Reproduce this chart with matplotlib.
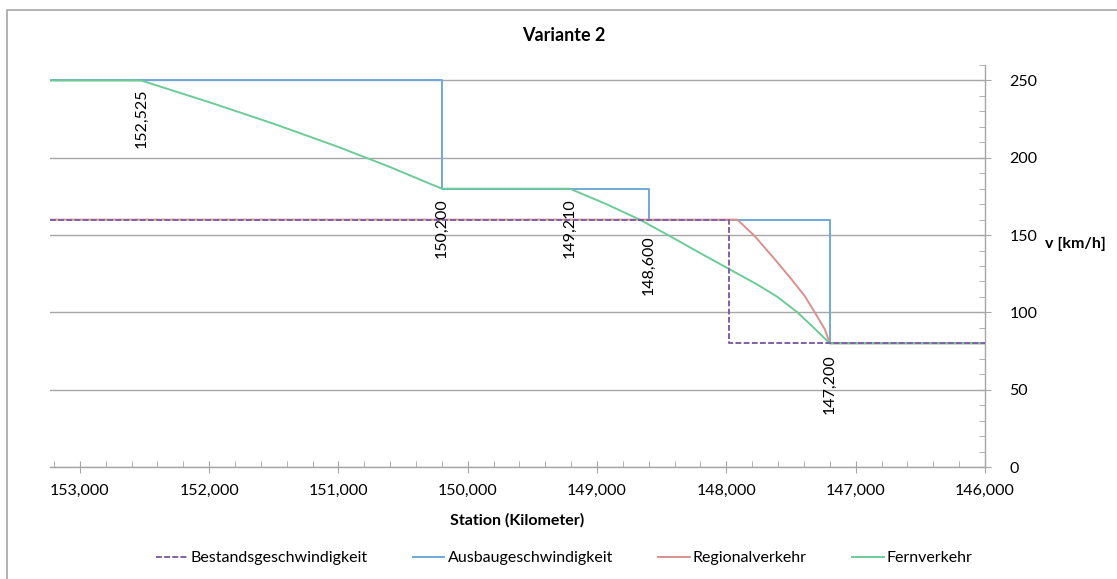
import matplotlib
matplotlib.use("Agg")
import matplotlib.pyplot as plt
import matplotlib.ticker as ticker
from matplotlib.patches import Rectangle

plt.rcParams['font.family'] = ['Lato', 'DejaVu Sans']

# Bestandsgeschwindigkeit
best_x = [153230, 147980, 147980, 146000]
best_v = [160, 160, 80, 80]

# Ausbaugeschwindigkeit
ausb_x = [153230, 150200, 150200, 148600, 148600, 147200, 147200, 146000]
ausb_v = [250, 250, 180, 180, 160, 160, 80, 80]

# Regionalverkehr
reg_x = [153230, 147915, 147782, 147627, 147497, 147393, 147316, 147238, 147200, 146000]
reg_v = [160, 160, 149.5, 134.5, 121.5, 110.5, 100, 89, 80, 80]

# Fernverkehr
fern_x = [153230, 152525, 152000, 151500, 151000, 150600, 150200, 149210,
          148927, 148669, 148429, 148195, 147977, 147760, 147604, 147450,
          147323, 147200, 146000]
fern_v = [250, 250, 236, 222, 207, 194, 180, 180,
          170, 160, 149, 138, 128, 118, 110, 100,
          90, 80, 80]

# markierte Stationen (x, Textoberkante in km/h)
mark_x = [152525, 150200, 149210, 148600, 147200]
mark_top = [245, 174, 174, 150, 73]
mark_txt = ["152,525", "150,200", "149,210", "148,600", "147,200"]

fig = plt.figure(figsize=(11.17, 5.79), dpi=100)
ax = fig.add_axes([0.0448, 0.1934, 0.8370, 0.6943])

# Rahmen um das Diagramm
fig.patches.append(Rectangle((7 / 1117, -0.1), 1.2, 1.1 - 10 / 579,
                             transform=fig.transFigure, fill=False,
                             edgecolor='#a6a6a6', linewidth=1.2))

ax.plot(best_x, best_v, color='#7f60a8', linestyle=(0, (3, 1.2)), linewidth=1.4,
        label='Bestandsgeschwindigkeit', zorder=3)
ax.plot(ausb_x, ausb_v, color='#6fa8dc', linewidth=1.4,
        label='Ausbaugeschwindigkeit', zorder=2)
ax.plot(reg_x, reg_v, color='#d9908e', linewidth=1.4,
        label='Regionalverkehr', zorder=2)
ax.plot(fern_x, fern_v, color='#6ccb96', linewidth=1.4,
        label='Fernverkehr', zorder=2)

for x, top, t in zip(mark_x, mark_top, mark_txt):
    ax.text(x, top, t, rotation=90, ha='center', va='top', fontsize=11.5, zorder=4)

ax.set_xlim(153230, 146000)
ax.set_ylim(0, 260)

ax.xaxis.set_major_locator(ticker.MultipleLocator(1000))
ax.xaxis.set_minor_locator(ticker.MultipleLocator(200))
ax.xaxis.set_major_formatter(ticker.FuncFormatter(lambda x, pos: '{:,.0f}'.format(x)))
ax.set_yticks([0, 50, 100, 150, 200, 250])
ax.yaxis.set_minor_locator(ticker.MultipleLocator(10))

ax.yaxis.tick_right()
ax.yaxis.set_label_position('right')
ax.grid(axis='y', which='major', color='#a6a6a6', linewidth=1.0)
ax.set_axisbelow(True)

for s in ['top', 'left']:
    ax.spines[s].set_visible(False)
for s in ['bottom', 'right']:
    ax.spines[s].set_color('#a6a6a6')
    ax.spines[s].set_linewidth(1.0)

ax.tick_params(axis='both', which='major', direction='inout', length=9,
               color='#a6a6a6', labelsize=11.5, pad=6)
ax.tick_params(axis='both', which='minor', direction='in', length=4, color='#a6a6a6')
ax.tick_params(axis='x', which='major', pad=8)
ax.tick_params(axis='y', which='major', pad=13)

fig.text(0.505, 0.938, 'Variante 2', ha='center', va='center', fontsize=13, fontweight='bold')
fig.text(0.463, 0.102, 'Station (Kilometer)', ha='center', va='center', fontsize=11.5,
         fontweight='bold')
fig.text(0.963, 0.578, 'v [km/h]', ha='center', va='center', fontsize=11.5, fontweight='bold')

fig.legend(loc='center', bbox_to_anchor=(0.505, 0.036), ncol=4, frameon=False,
           fontsize=11.5, handlelength=2.0, handletextpad=0.2, columnspacing=2.8)

fig.savefig('out.png', dpi=100)
